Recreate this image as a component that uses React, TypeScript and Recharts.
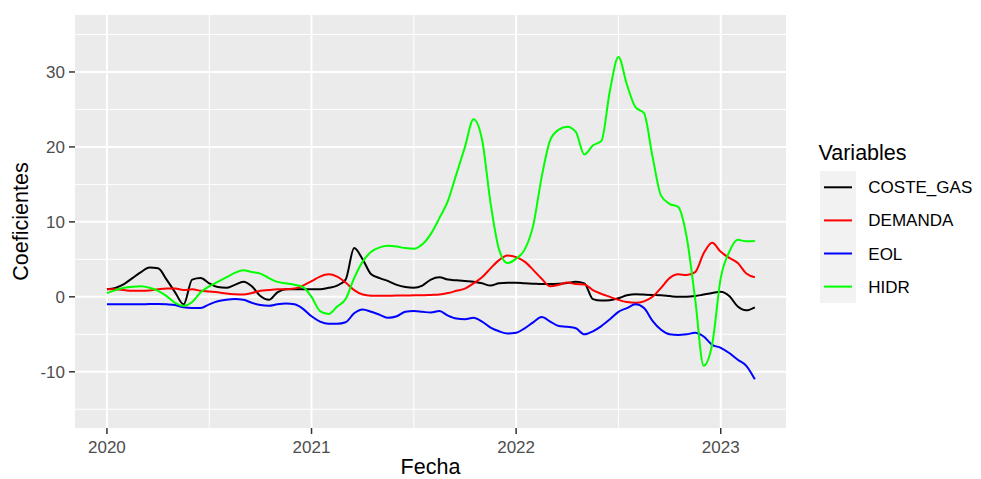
import React from 'react';
import {
  LineChart,
  Line,
  XAxis,
  YAxis,
  CartesianGrid,
  Label,
} from 'recharts';

// half-monthly dates, as decimal years (Jan 2020 .. Mar 2023)
const FECHAS = Array.from({ length: 77 }, (_, i) => 2020 + i / 24);

const COSTE_GAS = [
  1.0, 1.2, 1.7, 2.5, 3.3, 3.9, 3.8, 2.3, 0.6, -1.0,
  2.3, 2.5, 1.8, 1.3, 1.2, 1.6, 2.0, 1.4, 0.1, -0.4,
  0.6, 1.0, 1.0, 1.0, 1.0, 1.0, 1.2, 1.5, 2.3, 6.5,
  5.0, 3.0, 2.5, 2.1, 1.6, 1.3, 1.2, 1.5, 2.3, 2.6,
  2.3, 2.2, 2.1, 2.0, 1.8, 1.5, 1.8, 1.87, 1.87, 1.8,
  1.75, 1.7, 1.7, 1.75, 1.85, 2.0, 1.8, -0.3, -0.5, -0.45,
  -0.2, 0.2, 0.36, 0.3, 0.25, 0.2, 0.1, 0.0, 0.0, 0.1,
  0.3, 0.5, 0.67, 0.1, -1.3, -1.8, -1.4,
];

const DEMANDA = [
  1.0, 1.0, 0.9, 0.8, 0.8, 0.85, 1.0, 1.1, 1.1, 0.9,
  1.0, 0.8, 0.7, 0.6, 0.45, 0.35, 0.3, 0.5, 0.8, 0.9,
  1.0, 1.0, 1.1, 1.5, 2.1, 2.7, 3.0, 2.7, 1.9, 0.9,
  0.3, 0.15, 0.13, 0.15, 0.17, 0.17, 0.2, 0.2, 0.25, 0.3,
  0.5, 0.8, 1.1, 1.8, 2.6, 3.8, 4.9, 5.5, 5.3, 4.7,
  3.6, 2.4, 1.4, 1.6, 1.9, 1.7, 1.65, 0.9, 0.4, 0.0,
  -0.4, -0.7, -0.8, -0.6, 0.0, 1.2, 2.5, 3.0, 2.9, 3.3,
  5.8, 7.2, 6.0, 5.2, 4.5, 3.1, 2.6,
];

const EOL = [
  -1.0, -1.0, -1.0, -1.0, -1.0, -0.95, -0.95, -1.0, -1.1, -1.4,
  -1.5, -1.5, -1.0, -0.6, -0.4, -0.3, -0.4, -0.8, -1.1, -1.2,
  -1.0, -0.9, -1.0, -1.6, -2.6, -3.3, -3.6, -3.6, -3.4, -2.2,
  -1.7, -2.0, -2.4, -2.8, -2.6, -2.0, -1.9, -2.0, -2.1, -1.9,
  -2.5, -2.9, -3.0, -2.8, -3.3, -4.1, -4.6, -4.9, -4.8, -4.2,
  -3.4, -2.7, -3.3, -3.9, -4.0, -4.2, -5.0, -4.6, -3.9, -3.0,
  -2.0, -1.5, -1.0, -1.5, -3.2, -4.4, -5.0, -5.1, -5.0, -4.8,
  -5.3, -6.4, -6.8, -7.5, -8.4, -9.2, -11.0,
];

const HIDR = [
  0.5, 0.9, 1.2, 1.35, 1.4, 1.2, 0.8, 0.1, -0.8, -1.2,
  -0.7, 0.6, 1.4, 2.0, 2.6, 3.2, 3.55, 3.3, 3.1, 2.5,
  2.0, 1.8, 1.6, 1.3, 0.0, -1.9, -2.3, -1.3, -0.3, 2.5,
  4.7, 6.0, 6.6, 6.8, 6.7, 6.5, 6.4, 7.0, 8.4, 10.5,
  12.8, 16.4, 20.0, 23.7, 21.0, 12.5, 6.3, 4.5, 5.1, 6.3,
  9.5, 16.0, 20.9, 22.3, 22.7, 22.0, 19.0, 20.2, 20.8, 27.5,
  32.0, 28.3, 25.3, 24.5, 18.7, 13.5, 12.4, 12.0, 8.0, -0.3,
  -9.2, -6.3, 2.5, 6.0, 7.6, 7.4, 7.45,
];

const X_TICKS = [2020, 2021, 2022, 2023];
const Y_TICKS = [-10, 0, 10, 20, 30];
const Y_MINOR = [-15, -5, 5, 15, 25, 35];
const X_MINOR = [2020.5, 2021.5, 2022.5];

const SERIES = [
  { key: 'COSTE_GAS', values: COSTE_GAS, color: '#000000' },
  { key: 'DEMANDA', values: DEMANDA, color: '#FF0000' },
  { key: 'EOL', values: EOL, color: '#0000FF' },
  { key: 'HIDR', values: HIDR, color: '#00FF00' },
];

const data = FECHAS.map((t, i) => {
  const row: any = { t };
  SERIES.forEach((s) => (row[s.key] = s.values[i]));
  return row;
});

const FONT = '"Liberation Sans", Arial, sans-serif';
const TICK = { fill: '#4D4D4D', fontSize: 17, fontFamily: FONT };

const LegendBox = () => (
  <svg width={181} height={180} style={{ position: 'absolute', left: 800, top: 130 }}>
    <text x={18.5} y={30} fontSize={21.5} fontFamily={FONT} fill="#000">Variables</text>
    <rect x={20} y={41} width={36} height={132} fill="#F2F2F2" />
    {SERIES.map((s, i) => {
      const cy = 57.3 + i * 33.1;
      return (
        <g key={s.key}>
          <line x1={24} x2={52} y1={cy} y2={cy} stroke={s.color} strokeWidth={2} />
          <text x={68.3} y={cy} dy="0.355em" fontSize={17} fontFamily={FONT} fill="#000">
            {s.key}
          </text>
        </g>
      );
    })}
  </svg>
);

export default function App() {
  return (
    <div style={{ position: 'absolute', left: 0, top: 0, width: 981, height: 479, background: '#fff', fontFamily: FONT }}>
      <LineChart
        width={981}
        height={479}
        data={data}
        margin={{ top: 15, right: 195, bottom: 0, left: 0 }}
      >
        <CartesianGrid
          fill="#EBEBEB"
          stroke="#FFFFFF"
          strokeWidth={1}
          horizontalValues={Y_MINOR}
          verticalValues={X_MINOR}
        />
        <CartesianGrid
          stroke="#FFFFFF"
          strokeWidth={2}
          horizontalValues={Y_TICKS}
          verticalValues={X_TICKS}
        />
        <XAxis
          dataKey="t"
          type="number"
          domain={[2019.844, 2023.319]}
          ticks={X_TICKS}
          allowDataOverflow
          height={51}
          axisLine={false}
          tickLine={{ stroke: '#333333', strokeWidth: 1.5 }}
          tickSize={6}
          tickMargin={7}
          tick={TICK}
          tickFormatter={(v) => String(v)}
        >
          <Label
            content={({ viewBox }: any) => (
              <text
                x={viewBox.x + viewBox.width / 2}
                y={viewBox.y + viewBox.height - 5}
                textAnchor="middle"
                fontSize={21.5}
                fontFamily={FONT}
                fill="#000"
              >
                Fecha
              </text>
            )}
          />
        </XAxis>
        <YAxis
          type="number"
          domain={[-17.5, 37.6]}
          ticks={Y_TICKS}
          allowDataOverflow
          width={75}
          axisLine={false}
          tickLine={{ stroke: '#333333', strokeWidth: 1.5 }}
          tickSize={6}
          tickMargin={4}
          tick={TICK}
        >
          <Label
            content={({ viewBox }: any) => {
              const cx = 28;
              const cy = viewBox.y + viewBox.height / 2;
              return (
                <text
                  x={cx}
                  y={cy}
                  transform={`rotate(-90 ${cx} ${cy})`}
                  textAnchor="middle"
                  fontSize={21.5}
                  fontFamily={FONT}
                  fill="#000"
                >
                  Coeficientes
                </text>
              );
            }}
          />
        </YAxis>
        {SERIES.map((s) => (
          <Line
            key={s.key}
            dataKey={s.key}
            type="monotone"
            stroke={s.color}
            strokeWidth={2}
            dot={false}
            activeDot={false}
            isAnimationActive={false}
          />
        ))}
      </LineChart>
      <LegendBox />
    </div>
  );
}
